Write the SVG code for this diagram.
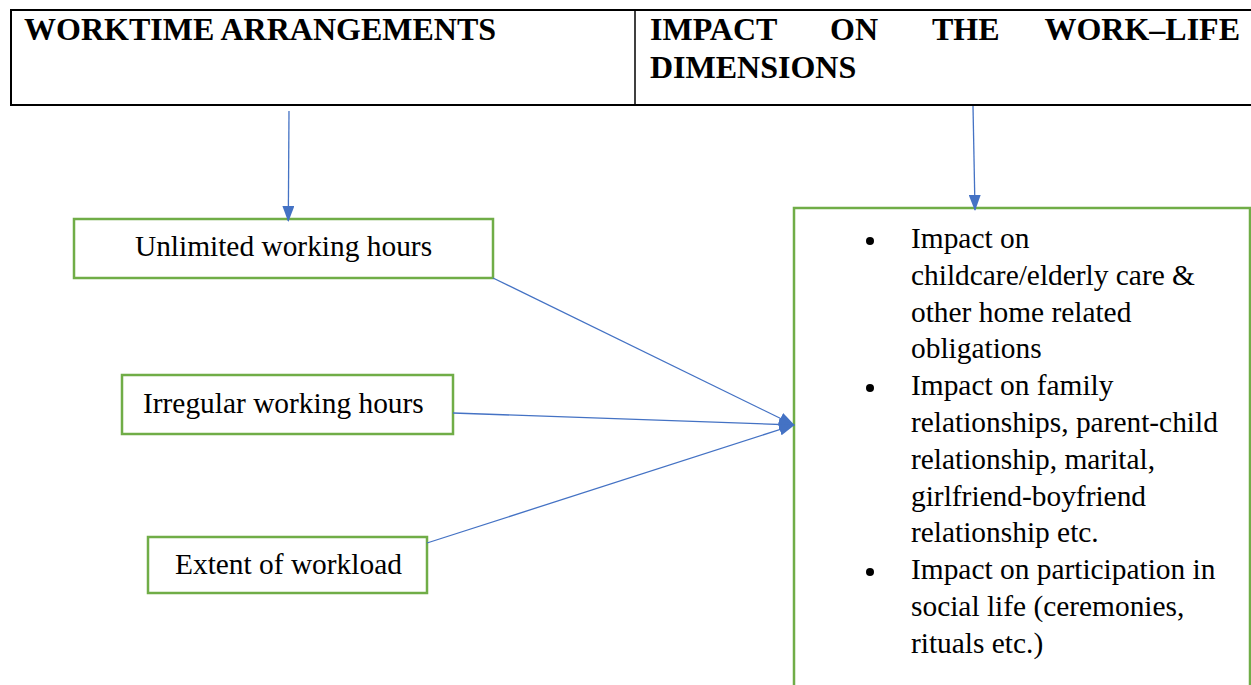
<svg xmlns="http://www.w3.org/2000/svg" width="1251" height="685" viewBox="0 0 1251 685">
<defs>
<style>
.hdr{font-family:"Liberation Serif","Times New Roman",serif;font-weight:bold;font-size:32px;fill:#000}
.t{font-family:"Liberation Serif","Times New Roman",serif;font-size:29.4px;fill:#000}
.box{fill:#fff;stroke:#70ad47;stroke-width:2.5}
.con{stroke:#4472c4;stroke-width:1.3;fill:none}
</style>
<marker id="ahb" markerWidth="16" markerHeight="12" refX="15" refY="6" orient="auto" markerUnits="userSpaceOnUse" viewBox="0 0 16 12">
<path d="M0,0 L16,6 L0,12 Z" fill="#4472c4"/>
</marker>
</defs>
<rect width="1251" height="685" fill="#fff"/>
<g id="header">
<rect x="11" y="10" width="1245" height="95" fill="none" stroke="#000" stroke-width="2"/>
<line x1="635" y1="10" x2="635" y2="105" stroke="#000" stroke-width="1.5"/>
<text class="hdr" x="24" y="40">WORKTIME ARRANGEMENTS</text>
<text class="hdr" x="650" y="40">IMPACT</text>
<text class="hdr" x="830" y="40">ON</text>
<text class="hdr" x="932" y="40">THE</text>
<text class="hdr" x="1240" y="40" text-anchor="end">WORK–LIFE</text>
<text class="hdr" x="650" y="78">DIMENSIONS</text>
</g>
<g id="n1">
<rect class="box" x="74" y="219" width="419" height="59"/>
<text class="t" x="283.5" y="256" text-anchor="middle">Unlimited working hours</text>
</g>
<g id="n2">
<rect class="box" x="122" y="375" width="331" height="59"/>
<text class="t" x="143" y="413">Irregular working hours</text>
</g>
<g id="n3">
<rect class="box" x="148" y="537" width="279" height="56"/>
<text class="t" x="175" y="574">Extent of workload</text>
</g>
<g id="n4">
<rect class="box" x="794" y="208" width="456" height="490"/>
<g class="t">
<circle cx="870" cy="241" r="4" fill="#000"/>
<circle cx="870" cy="388" r="4" fill="#000"/>
<circle cx="870" cy="572" r="4" fill="#000"/>
<text x="911" y="248">Impact on</text>
<text x="911" y="284.8">childcare/elderly care &amp;</text>
<text x="911" y="321.6">other home related</text>
<text x="911" y="358.4">obligations</text>
<text x="911" y="395.2">Impact on family</text>
<text x="911" y="432">relationships, parent-child</text>
<text x="911" y="468.8">relationship, marital,</text>
<text x="911" y="505.6">girlfriend-boyfriend</text>
<text x="911" y="542.4">relationship etc.</text>
<text x="911" y="579.2">Impact on participation in</text>
<text x="911" y="616">social life (ceremonies,</text>
<text x="911" y="652.8">rituals etc.)</text>
</g>
</g>
<g id="connectors">
<line class="con" x1="289" y1="111" x2="288.3" y2="221" marker-end="url(#ahb)"/>
<line class="con" x1="973" y1="106" x2="975" y2="210" marker-end="url(#ahb)"/>
<line class="con" x1="493" y1="278" x2="794" y2="425" marker-end="url(#ahb)"/>
<line class="con" x1="453" y1="413" x2="794" y2="425" marker-end="url(#ahb)"/>
<line class="con" x1="427" y1="543" x2="794" y2="425" marker-end="url(#ahb)"/>
</g>
</svg>
